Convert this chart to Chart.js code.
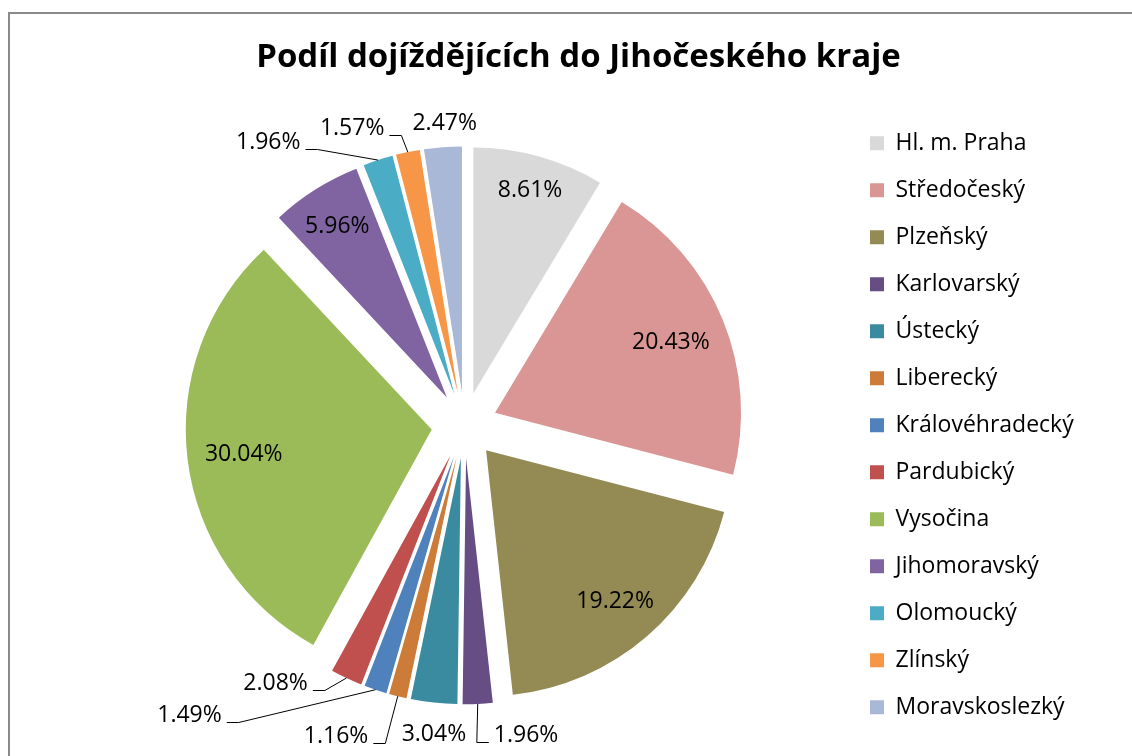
<!DOCTYPE html>
<html><head><meta charset="utf-8">
<script src="https://cdn.jsdelivr.net/npm/chart.js@4.4.1/dist/chart.umd.min.js"></script>
<style>
html,body{margin:0;padding:0;background:#fff;overflow:hidden;width:1132px;height:756px;}
#frame{position:absolute;left:8px;top:12px;width:1136px;height:749px;border:2px solid #8a8a8a;background:#fff;}
canvas{display:block;}
</style></head><body>
<div id="frame"><canvas id="c" width="1136" height="749"></canvas></div>
<script>
// ---- data ----
const categories = ['Hl. m. Praha','Středočeský','Plzeňský','Karlovarský','Ústecký','Liberecký','Královéhradecký','Pardubický','Vysočina','Jihomoravský','Olomoucký','Zlínský','Moravskoslezký'];
const shares = [8.61, 20.43, 19.22, 1.96, 3.04, 1.16, 1.49, 2.08, 30.04, 5.96, 1.96, 1.57, 2.47];
const sliceColors = ['#D9D9D9','#D99694','#948A54','#664E85','#3B8BA0','#CD7B38','#4F81BD','#C0504D','#9BBB59','#8064A2','#4BACC6','#F79646','#A9B8D7'];
const titleText = 'Podíl dojíždějících do Jihočeského kraje';

// ---- layout / style ----
const FONT = "'Open Sans', sans-serif";
const PIE_RADIUS = 246;
const EXPLODE = 33;
const LABEL_SIZE = 23;
const OUTSIDE_LIMIT = 4;     // slices smaller than this get outside labels
const INSIDE_MARGIN = 17;
const OUT_GAP = 28;
// label position tweaks (px) for outside labels, relative to their default spot
const labelNudge = [null, null, null, [47,2], [3,2], [-55,11], [-177,-2], [-59,-22], null, null, [-101,7], [-50,2], [4,3]];

const explodePlugin = {
  id: 'explode',
  afterDatasetsUpdate(chart) {
    chart.getDatasetMeta(0).data.forEach(a => {
      const m = (a.startAngle + a.endAngle) / 2;
      a.x += Math.cos(m) * EXPLODE;
      a.y += Math.sin(m) * EXPLODE;
    });
  }
};

const labelPlugin = {
  id: 'sliceLabels',
  afterDatasetsDraw(chart) {
    const ctx = chart.ctx;
    const meta = chart.getDatasetMeta(0);
    ctx.save();
    ctx.font = LABEL_SIZE + 'px ' + FONT;
    ctx.fillStyle = '#000';
    ctx.strokeStyle = '#000';
    ctx.lineWidth = 1;
    ctx.textAlign = 'center';
    ctx.textBaseline = 'alphabetic';
    const capH = LABEL_SIZE * 0.714;
    meta.data.forEach((a, i) => {
      const v = shares[i];
      const txt = v.toFixed(2) + '%';
      const tw = ctx.measureText(txt).width;
      const m = (a.startAngle + a.endAngle) / 2;
      const c = Math.cos(m), s = Math.sin(m);
      const R = a.outerRadius;
      let x, y;
      if (v >= OUTSIDE_LIMIT) {
        const r = R - INSIDE_MARGIN - (tw / 2 * Math.abs(c) + capH / 2 * Math.abs(s));
        x = a.x + r * c; y = a.y + r * s;
      } else {
        const ax = a.x + R * c, ay = a.y + R * s;
        const n = labelNudge[i] || [0, 0];
        x = a.x + (R + OUT_GAP) * c + n[0];
        y = a.y + (R + OUT_GAP) * s + n[1];
        if (Math.hypot(n[0], n[1]) > 15) {
          const by = Math.round(y + capH / 2) + 0.5;
          const dir = x < ax ? 1 : -1;
          const sx = x + dir * (tw / 2 + 5), ex = sx + dir * 12;
          ctx.beginPath();
          ctx.moveTo(sx, by); ctx.lineTo(ex, by); ctx.lineTo(ax, ay);
          ctx.stroke();
        }
      }
      ctx.fillText(txt, x, y + capH / 2);
    });
    ctx.restore();
  }
};

Chart.defaults.color = '#000';
new Chart(document.getElementById('c'), {
  type: 'pie',
  data: {
    labels: categories,
    datasets: [{
      data: shares,
      backgroundColor: sliceColors,
      borderWidth: 0,
      borderColor: '#fff',
      radius: PIE_RADIUS
    }]
  },
  options: {
    responsive: false,
    devicePixelRatio: 1,
    animation: false,
    events: [],
    layout: { padding: { left: 73, right: 72, top: 0, bottom: 0 } },
    plugins: {
      title: {
        display: true,
        text: titleText,
        color: '#000',
        font: { family: FONT, size: 33, weight: 'bold' },
        padding: { top: 24, bottom: 10 }
      },
      legend: {
        display: true,
        position: 'right',
        align: 'center',
        fullSize: false,
        maxWidth: 228,
        labels: {
          boxWidth: 14, boxHeight: 14, padding: 24,
          color: '#000',
          font: { family: FONT, size: 23 }
        }
      },
      tooltip: { enabled: false }
    }
  },
  plugins: [explodePlugin, labelPlugin]
});
</script>
</body></html>
